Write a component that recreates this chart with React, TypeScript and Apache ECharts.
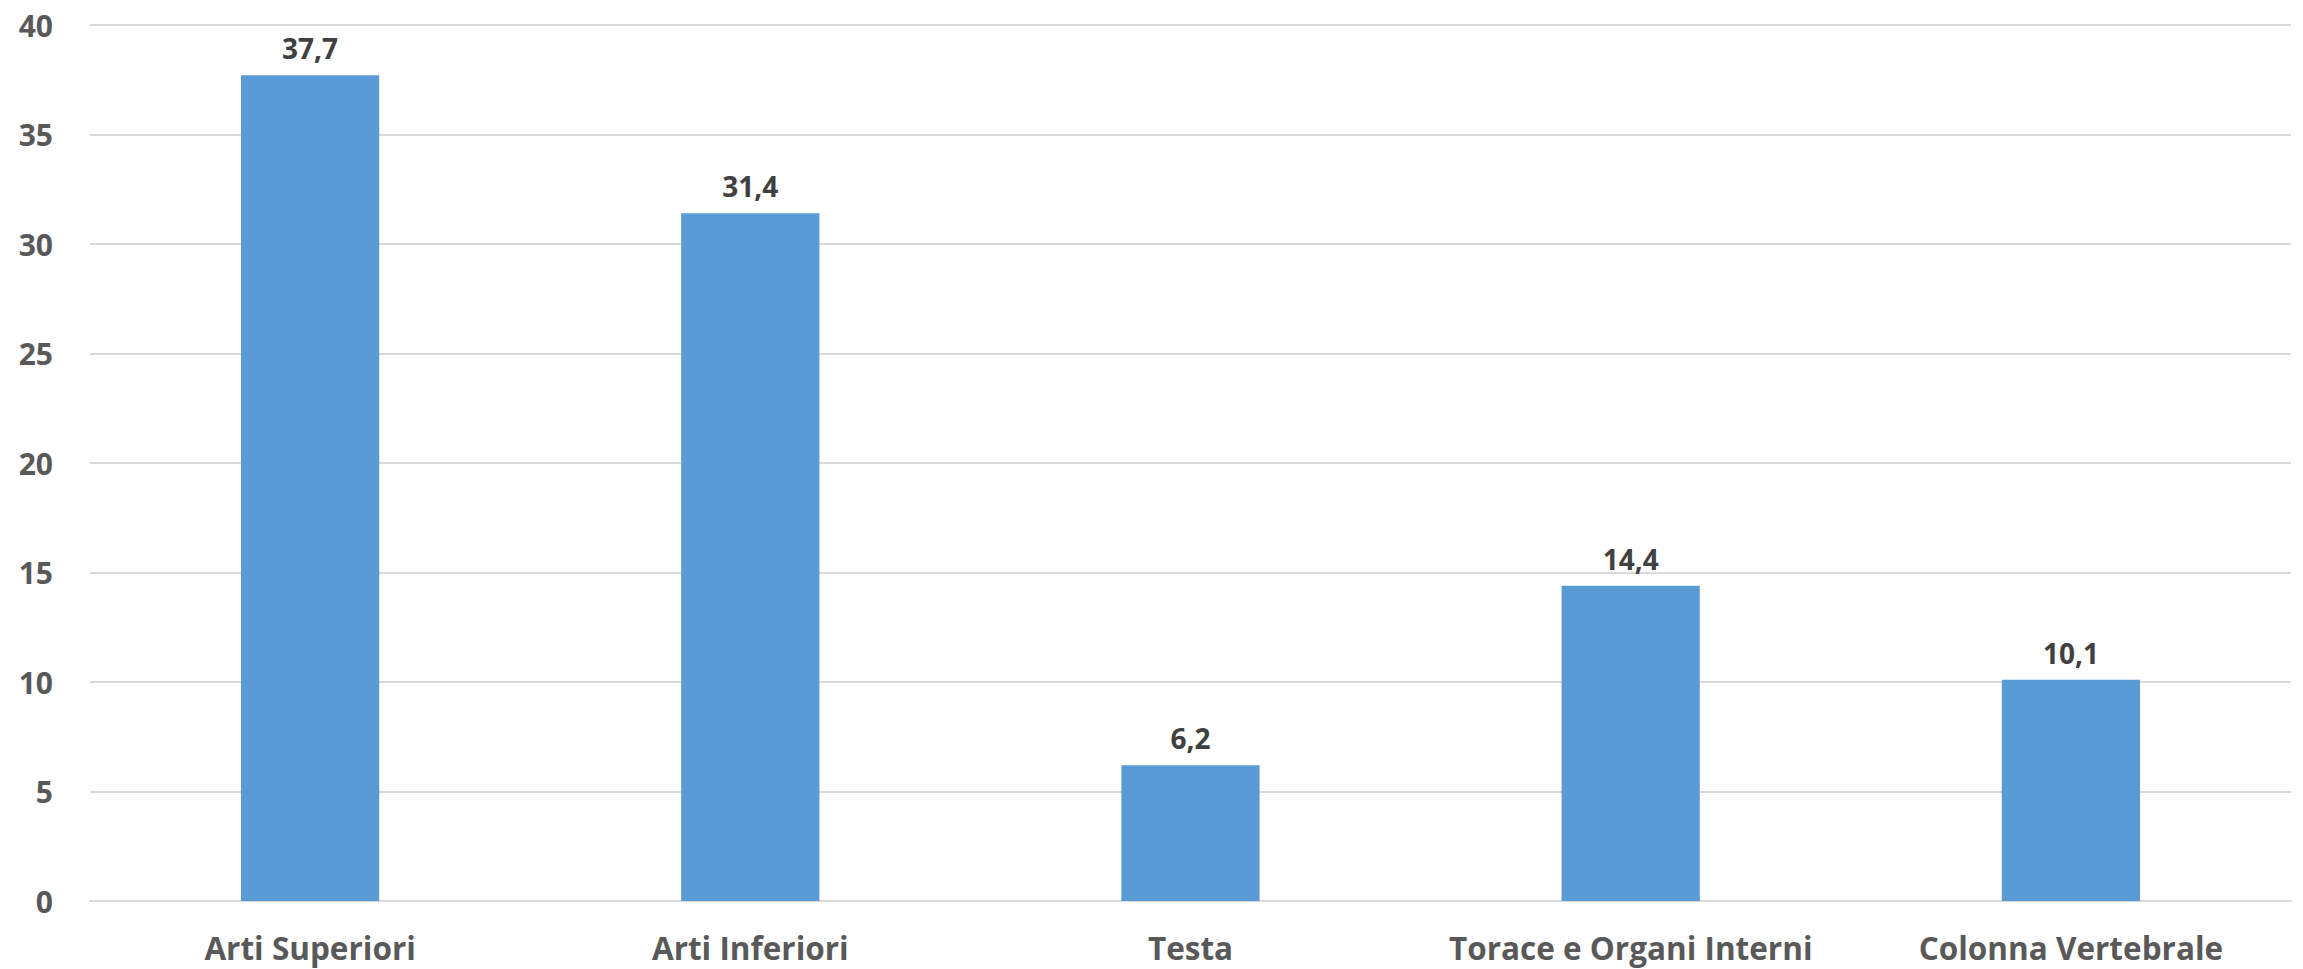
import React, { useEffect, useRef } from "react";
import * as echarts from "echarts";

const categories = ["Arti Superiori", "Arti Inferiori", "Testa", "Torace e Organi Interni", "Colonna Vertebrale"];
const values = [37.7, 31.4, 6.2, 14.4, 10.1];
const yTicks = { min: 0, max: 40, interval: 5 };

const FONT = "'Open Sans', sans-serif";

export default function App() {
  const ref = useRef<HTMLDivElement>(null);
  useEffect(() => {
    if (!ref.current) return;
    const chart = echarts.init(ref.current, undefined, { renderer: "svg" });
    chart.setOption({
      animation: false,
      backgroundColor: "#ffffff",
      grid: { left: 90, right: 12, top: 25, bottom: 68, containLabel: false },
      xAxis: {
        type: "category",
        data: categories,
        axisLine: { show: true, lineStyle: { color: "#D9D9D9", width: 2 } },
        axisTick: { show: false },
        axisLabel: {
          interval: 0,
          hideOverlap: false,
          color: "#595959",
          fontFamily: FONT,
          fontWeight: "bold",
          fontSize: 31.5,
          margin: 30,
        },
      },
      yAxis: {
        type: "value",
        min: yTicks.min,
        max: yTicks.max,
        interval: yTicks.interval,
        axisLine: { show: false },
        axisTick: { show: false },
        splitLine: { lineStyle: { color: "#D9D9D9", width: 2 } },
        axisLabel: {
          color: "#595959",
          fontFamily: FONT,
          fontWeight: "bold",
          fontSize: 30,
          margin: 37,
        },
      },
      series: [
        {
          type: "bar",
          data: values,
          barWidth: "31.4%",
          itemStyle: { color: "#5B9BD5" },
          label: {
            show: true,
            position: "top",
            distance: 13,
            color: "#404040",
            fontFamily: FONT,
            fontWeight: "bold",
            fontSize: 28,
            formatter: (p: any) => String(p.value).replace(".", ","),
          },
        },
      ],
    });
    return () => chart.dispose();
  }, []);
  return (
    <div
      ref={ref}
      style={{ position: "fixed", left: 0, top: 0, width: 2303, height: 969 }}
    />
  );
}
